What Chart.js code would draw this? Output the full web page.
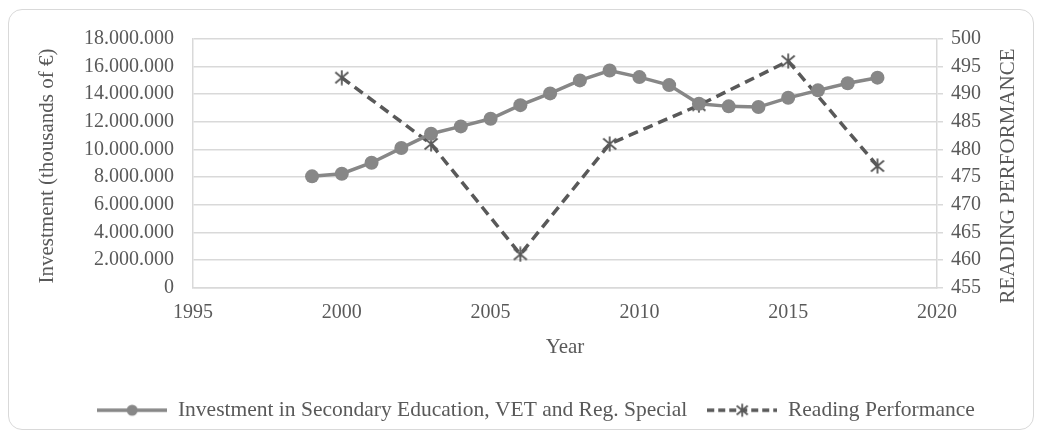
<!DOCTYPE html>
<html>
<head>
<meta charset="utf-8">
<title>Investment and reading performance</title>
<script src="https://cdn.jsdelivr.net/npm/chart.js@4/dist/chart.umd.min.js"></script>
<style>
  body { margin: 0; background: #fff; }
  #frame {
    position: absolute; left: 8px; top: 9px; width: 1024px; height: 419px;
    border: 1px solid #d9d9d9; border-radius: 14px;
  }
  #chart { position: absolute; left: 0; top: 0; }
</style>
</head>
<body>
<div id="frame"></div>
<canvas id="chart" width="1042" height="438"></canvas>
<script>
// yearly investment (thousands of euros)
const years = [1999, 2000, 2001, 2002, 2003, 2004, 2005, 2006, 2007, 2008,
               2009, 2010, 2011, 2012, 2013, 2014, 2015, 2016, 2017, 2018];
const investment = [8050000, 8240000, 9040000, 10100000, 11140000, 11670000, 12220000, 13210000, 14060000, 15000000,
                    15720000, 15240000, 14660000, 13310000, 13120000, 13070000, 13740000, 14280000, 14800000, 15200000];

// PISA reading scores
const pisaYears = [2000, 2003, 2006, 2009, 2012, 2015, 2018];
const reading = [493, 481, 461, 481, 488, 496, 477];

const seriesNames = ["Investment in Secondary Education, VET and Reg. Special", "Reading Performance"];
const axisTitles = ["Investment (thousands of €)", "READING PERFORMANCE"];

const FONT = "'Liberation Serif', 'Times New Roman', serif";
const TEXT = "#595959";
const GRID = "#d9d9d9";
const INV_COLOR = "#878787";
const READ_COLOR = "#595959";

// asterisk marker like the spreadsheet one
function starMarker(size, color, width) {
  const c = document.createElement("canvas");
  c.width = size; c.height = size;
  const g = c.getContext("2d");
  const h = size / 2;
  g.strokeStyle = color;
  g.lineWidth = width;
  g.beginPath();
  g.moveTo(h, 0.5); g.lineTo(h, size - 0.5);
  g.moveTo(1.5, 2.5); g.lineTo(size - 1.5, size - 2.5);
  g.moveTo(size - 1.5, 2.5); g.lineTo(1.5, size - 2.5);
  g.stroke();
  return c;
}

// legend samples: a short piece of line with the marker in the middle
function legendSample(kind) {
  const c = document.createElement("canvas");
  c.width = 70; c.height = 16;
  const g = c.getContext("2d");
  if (kind === "inv") {
    g.strokeStyle = INV_COLOR;
    g.lineWidth = 3.5;
    g.beginPath(); g.moveTo(0, 8); g.lineTo(70, 8); g.stroke();
    g.fillStyle = INV_COLOR;
    g.beginPath(); g.arc(35, 8, 5.5, 0, Math.PI * 2); g.fill();
  } else {
    g.strokeStyle = READ_COLOR;
    g.lineWidth = 3.5;
    g.setLineDash([7, 4]);
    g.beginPath(); g.moveTo(0, 8); g.lineTo(70, 8); g.stroke();
    g.drawImage(starMarker(14, READ_COLOR, 1.8), 28, 1);
  }
  return c;
}

const star = starMarker(16, READ_COLOR, 1.8);

function dotted(v) {
  return v.toString().replace(/\B(?=(\d{3})+(?!\d))/g, ".");
}

// both vertical axis titles read bottom to top
const axisTitlePlugin = {
  id: "axisTitles",
  afterDraw(chart) {
    const ctx = chart.ctx;
    const spots = [[47, 166], [1008, 176]];
    ctx.save();
    ctx.font = "21px " + FONT;
    ctx.fillStyle = TEXT;
    ctx.textAlign = "center";
    ctx.textBaseline = "middle";
    axisTitles.forEach((t, i) => {
      ctx.save();
      ctx.translate(spots[i][0], spots[i][1]);
      ctx.rotate(-Math.PI / 2);
      ctx.fillText(t, 0, 0);
      ctx.restore();
    });
    ctx.restore();
  }
};

new Chart(document.getElementById("chart"), {
  type: "line",
  data: {
    datasets: [
      {
        label: seriesNames[0],
        data: years.map((y, i) => ({ x: y, y: investment[i] })),
        yAxisID: "y",
        borderColor: INV_COLOR,
        backgroundColor: INV_COLOR,
        borderWidth: 3.5,
        pointStyle: "circle",
        pointRadius: 7,
        pointBorderWidth: 0,
        tension: 0
      },
      {
        label: seriesNames[1],
        data: pisaYears.map((y, i) => ({ x: y, y: reading[i] })),
        yAxisID: "y1",
        borderColor: READ_COLOR,
        backgroundColor: READ_COLOR,
        borderWidth: 3.5,
        borderDash: [10, 6],
        pointStyle: star,
        pointRadius: 8,
        tension: 0
      }
    ]
  },
  options: {
    responsive: false,
    animation: false,
    layout: { padding: { left: 50, right: 20, top: 39, bottom: 7 } },
    plugins: {
      legend: {
        position: "bottom",
        labels: {
          font: { family: FONT, size: 21.5 },
          color: TEXT,
          padding: 20,
          usePointStyle: true,
          pointStyleWidth: 70,
          generateLabels(chart) {
            return chart.data.datasets.map((ds, i) => ({
              text: ds.label,
              fontColor: TEXT,
              pointStyle: legendSample(i === 0 ? "inv" : "read"),
              datasetIndex: i,
              lineWidth: 0,
              strokeStyle: "transparent",
              fillStyle: "transparent"
            }));
          }
        }
      },
      tooltip: { enabled: false }
    },
    scales: {
      x: {
        type: "linear",
        min: 1995, max: 2020,
        ticks: { stepSize: 5, padding: 13, color: TEXT, font: { family: FONT, size: 20 }, callback: v => v },
        grid: { display: false, drawTicks: false },
        border: { display: true, color: GRID, width: 1.5 },
        title: { display: true, text: "Year", color: TEXT, font: { family: FONT, size: 21 }, padding: { top: 10, bottom: 19 } },
        afterFit(scale) { scale.height = 92; }
      },
      y: {
        position: "left",
        min: 0, max: 18000000,
        ticks: { stepSize: 2000000, padding: 19, color: TEXT, font: { family: FONT, size: 20 }, callback: v => dotted(v) },
        grid: { color: GRID, lineWidth: 1.5, drawTicks: false },
        border: { display: true, color: GRID, width: 1.5 },
        afterFit(scale) { scale.width = 143; }
      },
      y1: {
        position: "right",
        min: 455, max: 500,
        ticks: { stepSize: 5, padding: 8, color: TEXT, font: { family: FONT, size: 20 } },
        grid: { drawOnChartArea: false, drawTicks: true, tickLength: 6, color: GRID, lineWidth: 1.5 },
        border: { display: true, color: GRID, width: 1.5 },
        afterFit(scale) { scale.width = 85; }
      }
    }
  },
  plugins: [axisTitlePlugin]
});
</script>
</body>
</html>
